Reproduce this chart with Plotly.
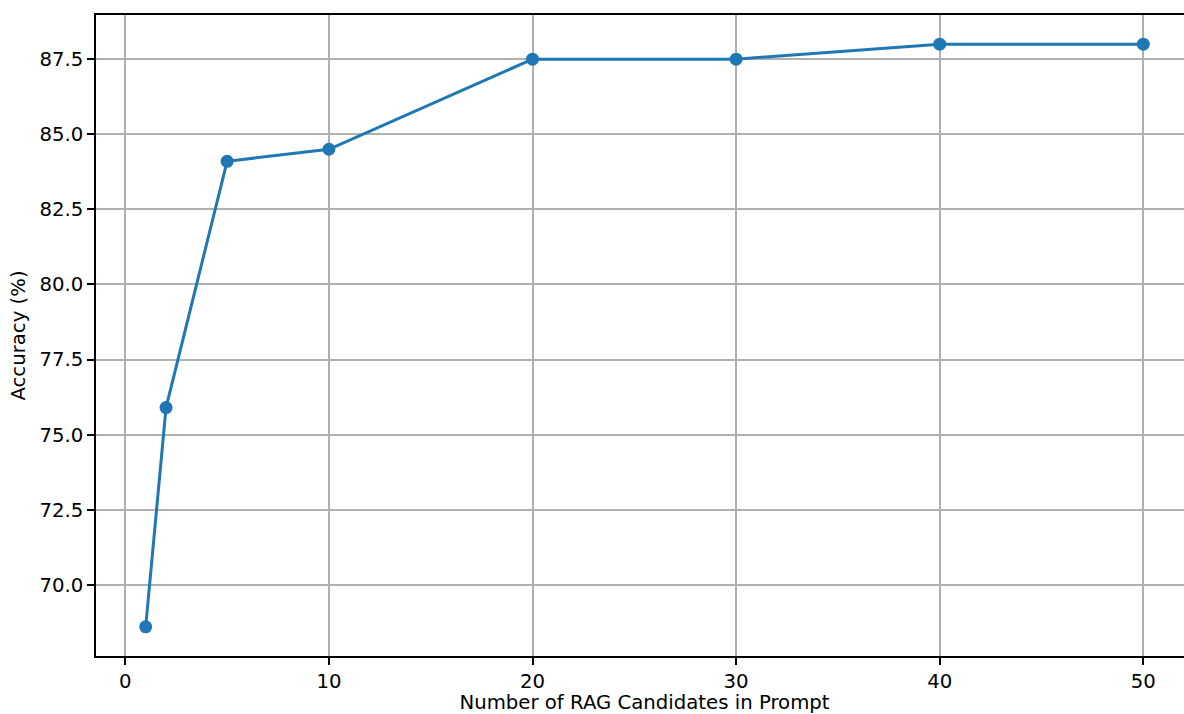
import plotly.graph_objects as go

candidates = [1, 2, 5, 10, 20, 30, 40, 50]
accuracy = [68.6, 75.9, 84.1, 84.5, 87.5, 87.5, 88.0, 88.0]
x_ticks = [0, 10, 20, 30, 40, 50]
y_ticks = [70.0, 72.5, 75.0, 77.5, 80.0, 82.5, 85.0, 87.5]

FONT = "DejaVu Sans"
FS = 19.7
W = 1193
fig = go.Figure()
fig.add_trace(go.Scatter(
    x=candidates, y=accuracy, mode="lines+markers",
    line=dict(color="#1f77b4", width=3),
    marker=dict(color="#1f77b4", size=13),
    showlegend=False,
))

fig.update_layout(
    width=W, height=714,
    margin=dict(l=96, r=0, t=15, b=58),
    paper_bgcolor="white", plot_bgcolor="white",
    font=dict(family=FONT, size=FS, color="black"),
    xaxis=dict(
        range=[-1.44, 52.0 + (W - 1184) / 20.36], tickmode="array", tickvals=x_ticks,
        ticktext=[str(v) for v in x_ticks],
        showgrid=True, gridcolor="#b0b0b0", gridwidth=1.5,
        showline=True, linecolor="black", linewidth=1.5, mirror=True,
        ticks="outside", ticklen=7, tickwidth=1.5, tickcolor="black",
        zeroline=False,
        title=dict(text="Number of RAG Candidates in Prompt", standoff=7,
                   font=dict(size=FS)),
    ),
    yaxis=dict(
        range=[67.63, 88.97], tickmode="array", tickvals=y_ticks,
        ticktext=[f"{v:.1f}" for v in y_ticks],
        showgrid=True, gridcolor="#b0b0b0", gridwidth=1.5,
        showline=True, linecolor="black", linewidth=1.5, mirror=False,
        ticks="outside", ticklen=7, tickwidth=1.5, tickcolor="black",
        zeroline=False,
        title=dict(text="Accuracy (%)", standoff=9, font=dict(size=FS)),
    ),
)

fig.write_html(
    "out.html",
    config={"displayModeBar": False},
    post_script=("document.body.style.margin='0';document.body.style.overflow='hidden';"
                 "document.documentElement.style.overflow='hidden';"),
)
